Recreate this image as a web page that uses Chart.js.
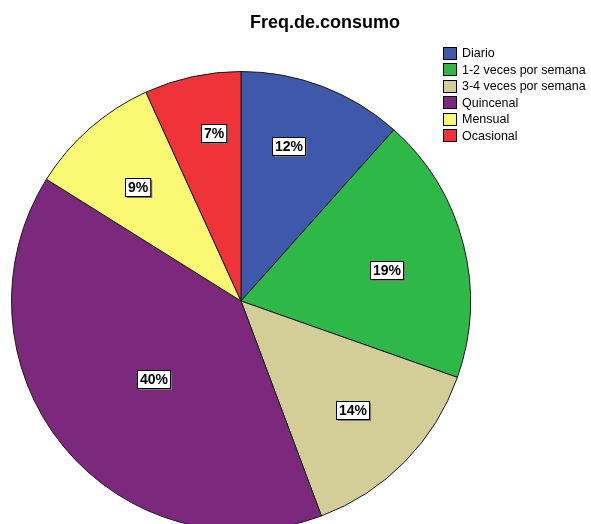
<!DOCTYPE html>
<html>
<head>
<meta charset="utf-8">
<script src="https://cdn.jsdelivr.net/npm/chart.js@4.4.1/dist/chart.umd.min.js"></script>
<style>
  html, body { margin: 0; padding: 0; background: #fff; overflow: hidden; width: 591px; height: 524px; }
  #wrap { position: relative; width: 591px; height: 524px; overflow: hidden; }
  #c { position: absolute; left: 0; top: 0; }
  #title { position: absolute; left: 225px; width: 200px; top: 12px; text-align: center;
           font: bold 18px "Liberation Sans", Arial, sans-serif; color: #000; }
  #legend { position: absolute; left: 443px; top: 45px; font: 12.5px "Liberation Sans", Arial, sans-serif; color: #000; }
  .row { height: 16.5px; display: flex; align-items: center; white-space: nowrap; }
  .sw { width: 12px; height: 11px; border: 1px solid #000; margin-right: 5px; box-sizing: content-box; }
</style>
</head>
<body>
<div id="wrap">
  <canvas id="c" width="591" height="560"></canvas>
  <div id="title"></div>
  <div id="legend"></div>
</div>
<script>
const chartTitle = "Freq.de.consumo";
const categories = ["Diario", "1-2 veces por semana", "3-4 veces por semana", "Quincenal", "Mensual", "Ocasional"];
const percentValues = [11.6, 18.8, 13.9, 39.6, 9.3, 6.8];
const sliceColors = ["#3E58AC", "#2EB848", "#D3CE97", "#7C287D", "#FBF873", "#EF3338"];
const labelRadiusFactors = [0.705, 0.65, 0.68, 0.512, 0.67, 0.74];
const labelAngleShiftDeg = [-3.7, 2.4, 0, -2.4, -0.9, 3];

document.getElementById('title').textContent = chartTitle;
const leg = document.getElementById('legend');
categories.forEach((name, i) => {
  const row = document.createElement('div');
  row.className = 'row';
  const sw = document.createElement('span');
  sw.className = 'sw';
  sw.style.background = sliceColors[i];
  const t = document.createElement('span');
  t.textContent = name;
  row.appendChild(sw); row.appendChild(t);
  leg.appendChild(row);
});

const boxLabels = {
  id: 'boxLabels',
  afterDatasetsDraw(chart, args, opts) {
    const ctx = chart.ctx;
    const meta = chart.getDatasetMeta(0);
    const data = chart.data.datasets[0].data;
    const total = data.reduce((a, b) => a + b, 0);
    ctx.save();
    ctx.font = 'bold 14px "Liberation Sans", Arial, sans-serif';
    ctx.textAlign = 'center';
    ctx.textBaseline = 'middle';
    meta.data.forEach((arc, i) => {
      const p = arc.getProps(['x', 'y', 'startAngle', 'endAngle', 'outerRadius'], true);
      const mid = (p.startAngle + p.endAngle) / 2 + opts.shifts[i] * Math.PI / 180;
      const r = p.outerRadius * opts.factors[i];
      const x = p.x + Math.cos(mid) * r;
      const y = p.y + Math.sin(mid) * r;
      const txt = Math.round(data[i] / total * 100) + '%';
      const w = ctx.measureText(txt).width + 5;
      const h = 18;
      const bx = Math.round(x - w / 2) + 0.5, by = Math.round(y - h / 2) + 0.5;
      ctx.fillStyle = '#777';
      ctx.fillRect(bx + 1.5, by + 1.5, w, h);
      ctx.fillStyle = '#fff';
      ctx.fillRect(bx, by, w, h);
      ctx.strokeStyle = '#000';
      ctx.lineWidth = 1;
      ctx.strokeRect(bx, by, w, h);
      ctx.fillStyle = '#000';
      ctx.fillText(txt, bx + w / 2, by + h / 2 + 1);
    });
    ctx.restore();
  }
};

new Chart(document.getElementById('c'), {
  type: 'pie',
  data: {
    labels: categories,
    datasets: [{
      data: percentValues,
      backgroundColor: sliceColors,
      borderColor: '#1a1a1a',
      borderWidth: 1
    }]
  },
  options: {
    responsive: false,
    animation: false,
    devicePixelRatio: 1,
    layout: { padding: { left: 11, right: 120, top: 71, bottom: 29 } },
    plugins: {
      legend: { display: false },
      title: { display: false },
      tooltip: { enabled: false },
      boxLabels: { factors: labelRadiusFactors, shifts: labelAngleShiftDeg }
    }
  },
  plugins: [boxLabels]
});
</script>
</body>
</html>
